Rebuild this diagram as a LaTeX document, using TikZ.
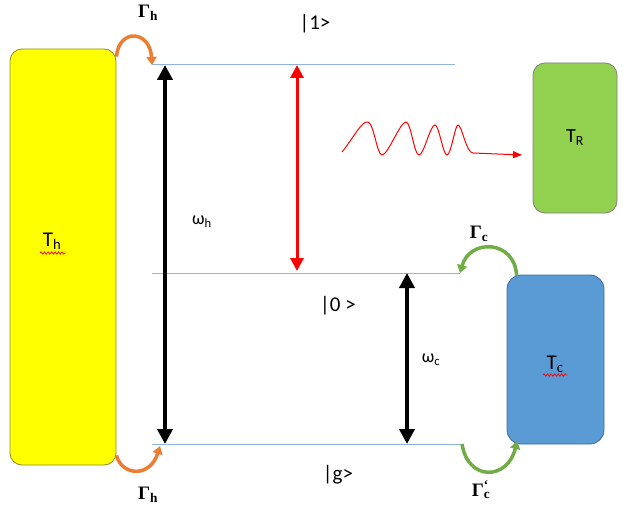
\documentclass[tikz,border=0pt]{standalone}
\usepackage{fontspec}
\setmainfont{Liberation Serif}
\newfontfamily\calib{Carlito}
\usetikzlibrary{arrows.meta,decorations.pathmorphing}
\definecolor{bath}{HTML}{FFFF00}
\definecolor{barand}{HTML}{92D050}
\definecolor{dingin}{HTML}{5B9BD5}
\definecolor{aras}{HTML}{8DB4DE}
\definecolor{oranye}{HTML}{ED7D31}
\definecolor{hijau}{HTML}{70AD47}
\begin{document}
\begin{tikzpicture}[x=1pt,y=-1pt,
      wadah/.style={draw,rounded corners=12pt,inner sep=0pt,line width=0.8pt,
        font=\calib\fontsize{20}{22}\selectfont},
      tingkat/.style={draw=aras,line width=1pt},
      label/.style={font=\calib\fontsize{21}{24}\selectfont,inner sep=0pt},
      gamma/.style={font=\fontsize{19}{21}\selectfont\bfseries,inner sep=0pt},
      omega/.style={font=\calib\fontsize{18}{20}\selectfont,inner sep=0pt},
      panah/.style={line width=4pt,{Triangle[width=15pt,length=15pt]}-{Triangle[width=15pt,length=15pt]}},
      lengkung/.style={line width=3.5pt,-{Triangle[width=10pt,length=8pt]}},
      coret/.style={red,line width=0.7pt,decorate,
        decoration={snake,amplitude=1.2pt,segment length=3.5pt}}]
    \useasboundingbox (0,0) rectangle (628,513);

    % reservoir
    \node[wadah,fill=bath,draw=olive!70!gray,minimum width=106pt,minimum height=416pt]
      (Th) at (63,257) {};
    \node[wadah,fill=barand,draw=gray,minimum width=84pt,minimum height=150pt]
      (TR) at (575,138) {T\textsubscript{R}};
    \node[wadah,fill=dingin,draw=dingin!70!black,rounded corners=14pt,
      minimum width=97pt,minimum height=169pt] (Tc) at (555.5,359.5) {};
    \node[font=\calib\fontsize{21}{23}\selectfont,inner sep=0pt] (lTh) at (52,241) {T\textsubscript{h}};
    \node[font=\calib\fontsize{21}{23}\selectfont,inner sep=0pt] (lTc) at (555,364) {T\textsubscript{c}};
    \draw[coret] (40,253) -- (66,253);
    \draw[coret] (543,375) -- (567,375);

    % tingkat energi
    \coordinate (a1) at (152,65);  \coordinate (b1) at (455,65);
    \coordinate (a0) at (152,273); \coordinate (b0) at (460,273);
    \coordinate (ag) at (152,444); \coordinate (bg) at (462,444);
    \draw[tingkat] (a1) -- (b1);
    \draw[tingkat] (a0) -- (b0);
    \draw[tingkat] (ag) -- (bg);
    \node[label] (k1) at (315,24) {|1>};
    \node[label] (k0) at (338,306) {|0 >};
    \node[label] (kg) at (338,475) {|g>};

    % transisi
    \coordinate (wh1) at (165,65);  \coordinate (wh2) at (165,444);
    \coordinate (r1) at (297,65);   \coordinate (r2) at (297,271);
    \coordinate (wc1) at (407,273); \coordinate (wc2) at (407,444);
    \draw[panah] (wh1) -- (wh2);
    \draw[panah,red,line width=3pt,{Triangle[width=13pt,length=13pt]}-{Triangle[width=13pt,length=13pt]}] (r1) -- (r2);
    \draw[panah] (wc1) -- (wc2);
    \node[omega] (oh) at (202,222) {ω\textsubscript{h}};
    \node[omega] (oc) at (431,360) {ω\textsubscript{c}};

    % foton
    \coordinate (f0) at (342,152); \coordinate (f1) at (522,155);
    \draw[red,line width=1pt,-{Triangle[width=7pt,length=9pt]}] (f0)
      .. controls (352,140) and (362,120) .. (368,122)
      .. controls (374,124) and (377,155) .. (382,155)
      .. controls (388,155) and (400,122) .. (406,122)
      .. controls (411,122) and (414,155) .. (419,155)
      .. controls (424,155) and (430,125) .. (435,125)
      .. controls (439,125) and (443,155) .. (447,155)
      .. controls (451,155) and (455,125) .. (458,125)
      .. controls (462,125) and (466,153) .. (473,153) -- (f1);

    % laju
    \draw[lengkung,oranye] (Th.north east) ++(0,8) coordinate (h1)
      .. controls (119,28) and (150,30) .. (a1);
    \draw[lengkung,oranye] (Th.south east) ++(0,-10) coordinate (h2)
      .. controls (122,476) and (150,478) .. (160,446);
    \draw[lengkung,hijau] (Tc.north west) ++(10,1) coordinate (c1)
      .. controls (515,240) and (470,238) .. (b0);
    \draw[lengkung,hijau] (bg) .. controls (468,482) and (508,480) .. (517,441);
    \node[gamma] (gh1) at (148,13) {Γ\textsubscript{h}};
    \node[gamma] (gh2) at (148,495) {Γ\textsubscript{h}};
    \node[gamma] (gc1) at (479,234) {Γ\textsubscript{c}};
    \node[gamma] (gc2) at (481,490) {Γ\rlap{\textsuperscript{`}}\textsubscript{c}};
  \end{tikzpicture}
\end{document}
